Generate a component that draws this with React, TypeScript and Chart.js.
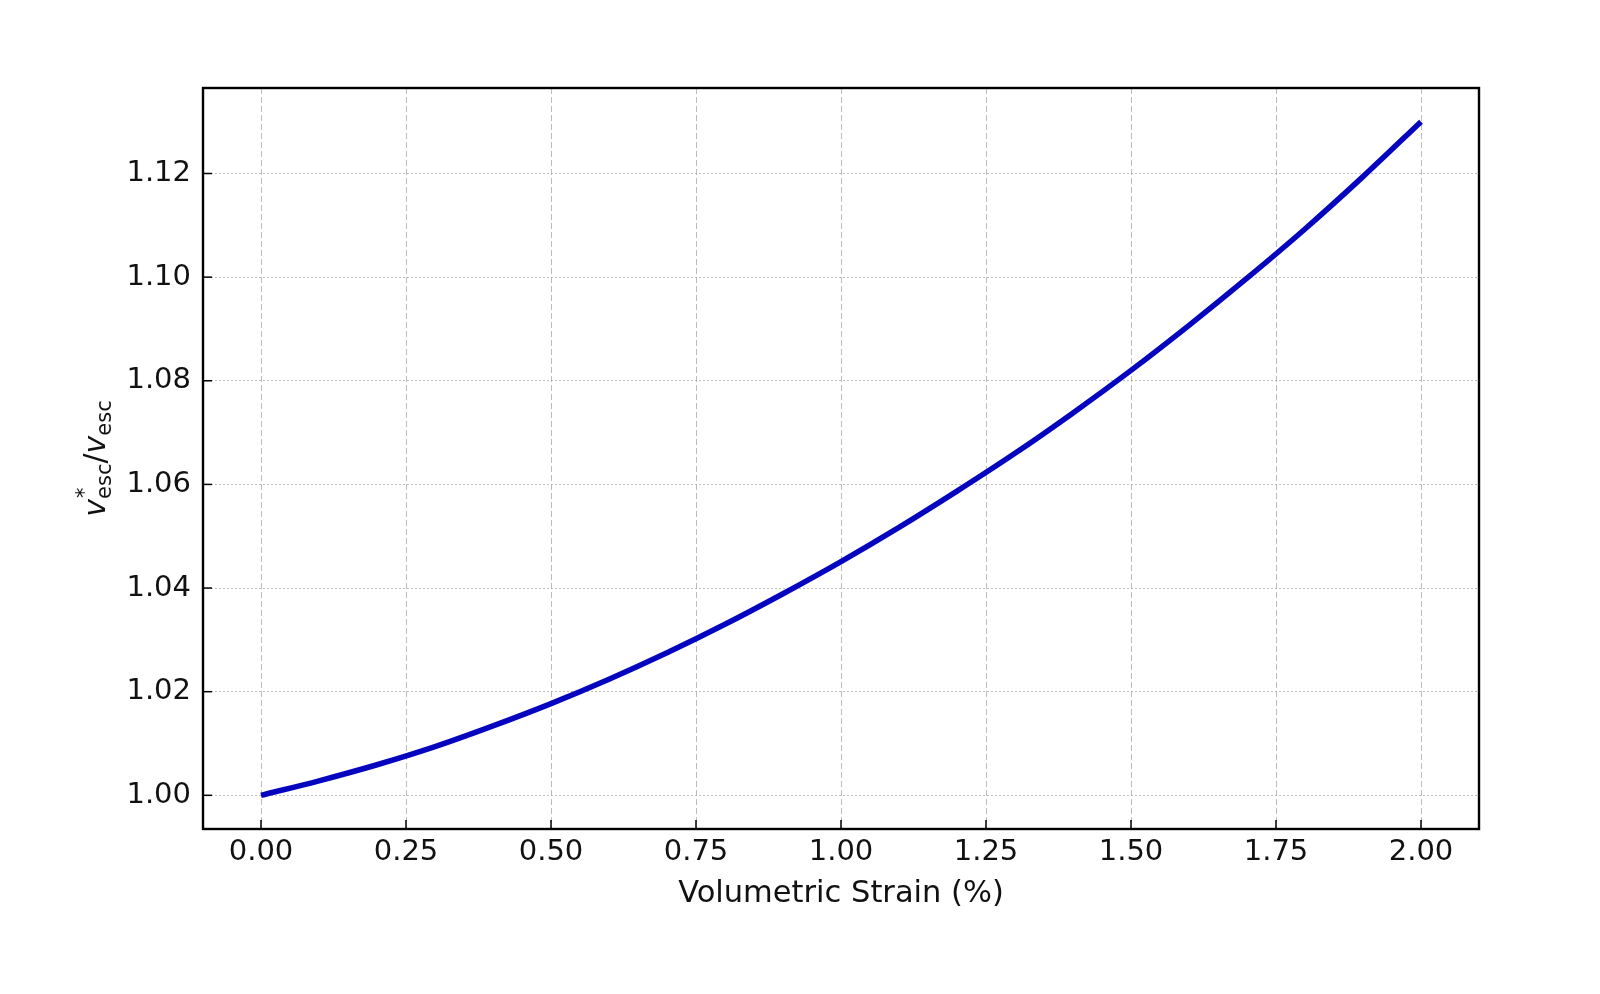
import React, { useEffect, useRef } from "react";
import { Chart, registerables } from "chart.js";

Chart.register(...registerables);

const strainPct = [0.0, 0.1, 0.2, 0.3, 0.4, 0.5, 0.6, 0.7, 0.8, 0.9, 1.0, 1.1, 1.2, 1.3, 1.4, 1.5, 1.6, 1.7, 1.8, 1.9, 2.0];
const velocityRatio = [1.0, 1.0028, 1.0059, 1.0094, 1.0134, 1.0177, 1.0224, 1.0275, 1.033, 1.0389, 1.0451, 1.0517, 1.0587, 1.066, 1.0738, 1.082, 1.0907, 1.0998, 1.1093, 1.1194, 1.13];
const xTickValues = [0.0, 0.25, 0.5, 0.75, 1.0, 1.25, 1.5, 1.75, 2.0];
const yTickValues = [1.0, 1.02, 1.04, 1.06, 1.08, 1.1, 1.12];
const xTitle = "Volumetric Strain (%)";

const FONT = "'DejaVu Sans', sans-serif";

const framePlugin = {
  id: "frame",
  afterDraw(chart: any) {
    const { ctx, chartArea } = chart;
    const { left, right, top, bottom } = chartArea;
    const xs = chart.scales.x;
    const ys = chart.scales.y;
    ctx.save();
    ctx.strokeStyle = "#000";
    ctx.lineWidth = 1.5;
    ctx.setLineDash([]);
    xTickValues.forEach((v) => {
      const px = xs.getPixelForValue(v);
      ctx.beginPath();
      ctx.moveTo(px, bottom);
      ctx.lineTo(px, bottom - 9);
      ctx.stroke();
    });
    yTickValues.forEach((v) => {
      const py = ys.getPixelForValue(v);
      ctx.beginPath();
      ctx.moveTo(left, py);
      ctx.lineTo(left + 9, py);
      ctx.stroke();
    });
    ctx.lineWidth = 2.4;
    ctx.strokeRect(left, top, right - left, bottom - top);

    // x-axis title
    ctx.fillStyle = "#111";
    ctx.font = `30.5px ${FONT}`;
    ctx.textAlign = "center";
    ctx.textBaseline = "alphabetic";
    ctx.fillText(xTitle, (left + right) / 2, 902);

    // y-axis title with math formatting
    const cx = 95;
    const cy = (top + bottom) / 2;
    ctx.translate(cx, cy);
    ctx.rotate(-Math.PI / 2);
    ctx.fillStyle = "#111";
    ctx.textAlign = "left";
    const big = `italic 30px ${FONT}`;
    const small = `21px ${FONT}`;
    const norm = `30px ${FONT}`;
    const pieces: { t: string; f: string; dy: number }[] = [
      { t: "v", f: big, dy: 0 },
      { t: "esc", f: small, dy: 6 },
      { t: "/", f: norm, dy: 0 },
      { t: "v", f: big, dy: 0 },
      { t: "esc", f: small, dy: 6 },
    ];
    ctx.font = big;
    const vW = ctx.measureText("v").width;
    let total = 0;
    pieces.forEach((p) => {
      ctx.font = p.f;
      total += ctx.measureText(p.t).width;
    });
    let x = -total / 2;
    const base = 10;
    pieces.forEach((p, i) => {
      ctx.font = p.f;
      ctx.fillText(p.t, x, base + p.dy);
      if (i === 0) {
        ctx.font = small;
        ctx.fillText("*", x + vW + 1, base - 14);
      }
      ctx.font = p.f;
      x += ctx.measureText(p.t).width;
    });
    ctx.restore();
  },
};

export default function App() {
  const ref = useRef<HTMLCanvasElement | null>(null);
  useEffect(() => {
    if (!ref.current) return;
    const chart = new Chart(ref.current, {
      type: "line",
      data: {
        datasets: [
          {
            data: strainPct.map((x, i) => ({ x, y: velocityRatio[i] })),
            borderColor: "#0505c0",
            borderWidth: 5.5,
            pointRadius: 0,
            cubicInterpolationMode: "monotone",
            fill: false,
            borderCapStyle: "butt",
          },
        ],
      },
      options: {
        responsive: false,
        animation: false,
        layout: { padding: { left: 0, top: 88, right: 121, bottom: 0 } },
        plugins: { legend: { display: false }, tooltip: { enabled: false } },
        scales: {
          x: {
            type: "linear",
            min: -0.1,
            max: 2.1,
            afterBuildTicks: (s: any) => {
              s.ticks = xTickValues.map((v) => ({ value: v }));
            },
            afterFit: (s: any) => {
              s.height = 165;
            },
            grid: { color: "rgba(160,160,160,0.7)", lineWidth: 1, drawTicks: false },
            border: { display: false, dash: [6, 3] },
            ticks: {
              color: "#111",
              font: { family: FONT, size: 29 },
              padding: 6,
              maxRotation: 0,
              autoSkip: false,
              callback: (v: any) => Number(v).toFixed(2),
            },
          },
          y: {
            type: "linear",
            min: 0.9935,
            max: 1.1365,
            afterBuildTicks: (s: any) => {
              s.ticks = yTickValues.map((v) => ({ value: v }));
            },
            afterFit: (s: any) => {
              s.width = 203;
            },
            grid: { color: "rgba(160,160,160,0.7)", lineWidth: 1, drawTicks: false },
            border: { display: false, dash: [2, 2] },
            ticks: {
              color: "#111",
              font: { family: FONT, size: 29 },
              padding: 12,
              autoSkip: false,
              callback: (v: any) => Number(v).toFixed(2),
            },
          },
        },
      },
      plugins: [framePlugin],
    } as any);
    return () => chart.destroy();
  }, []);
  return (
    <div style={{ position: "fixed", left: 0, top: 0, width: 1600, height: 994, background: "#fff" }}>
      <canvas ref={ref} width={1600} height={994} />
    </div>
  );
}
